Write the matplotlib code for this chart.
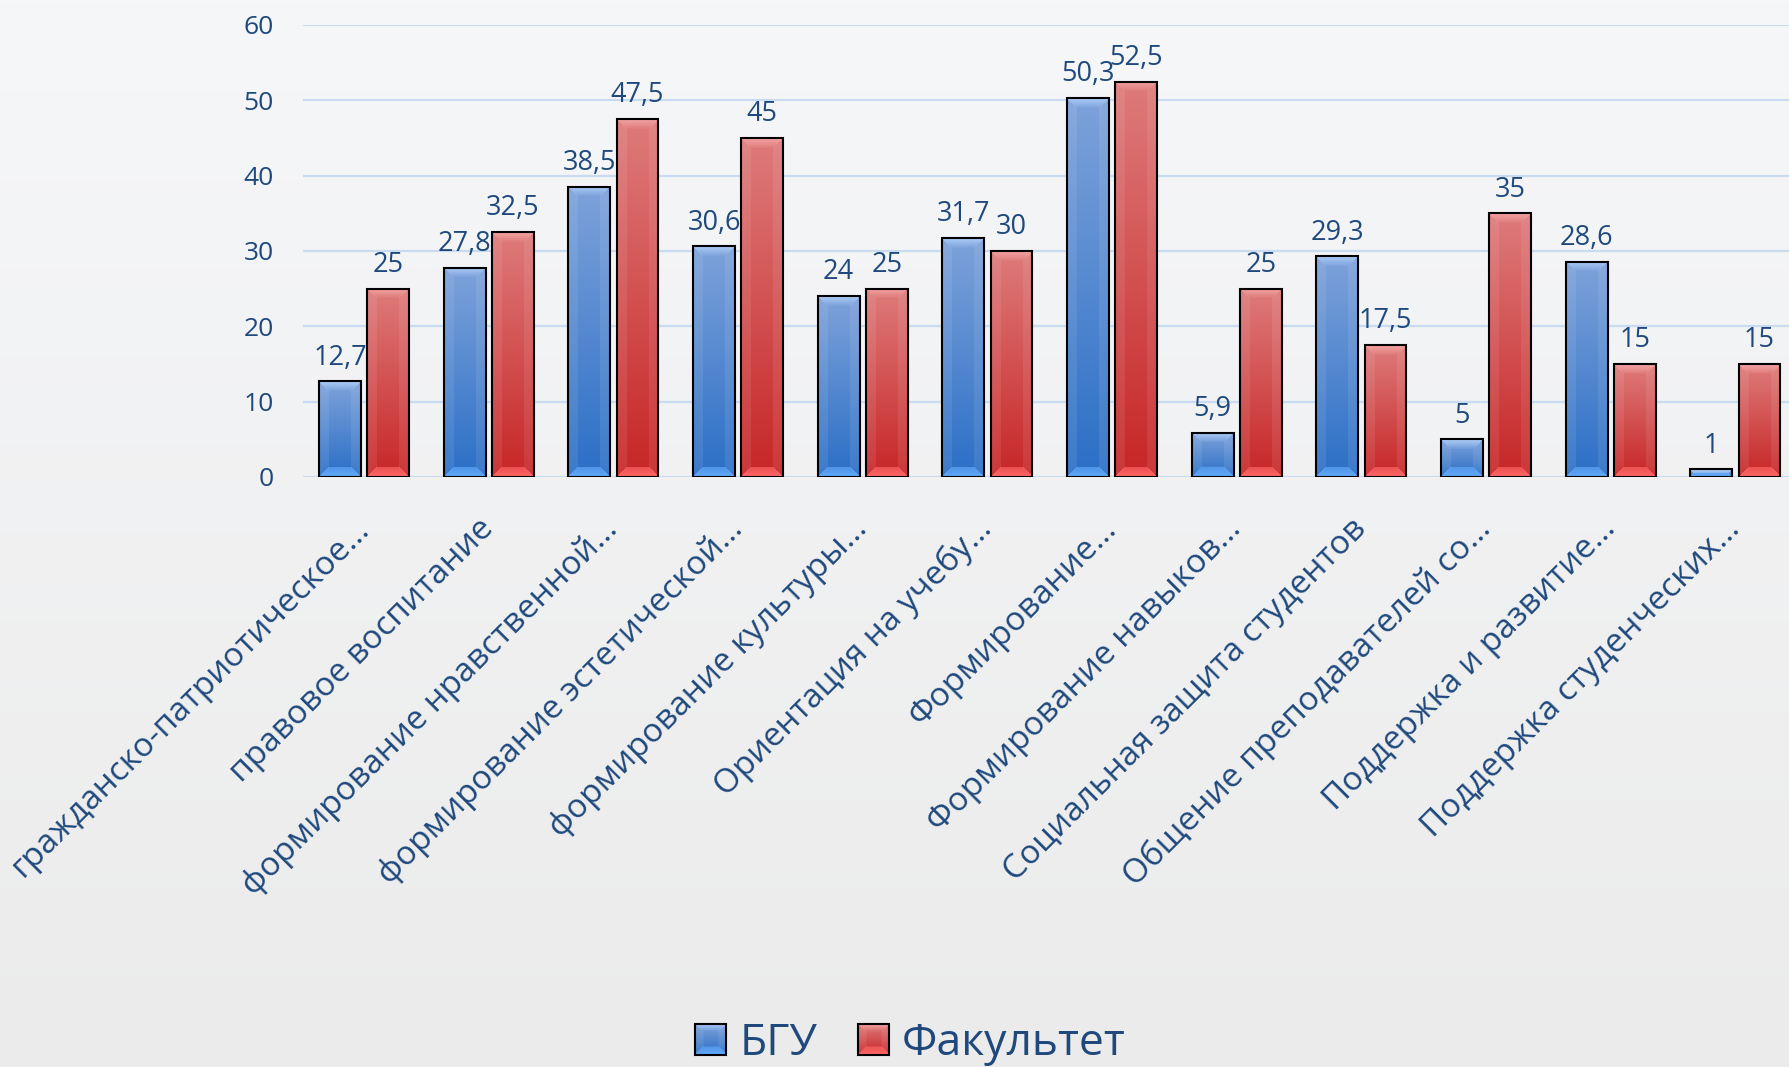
import numpy as np
import matplotlib
matplotlib.use("Agg")
import matplotlib.pyplot as plt
from matplotlib.legend_handler import HandlerBase
from matplotlib.patches import Rectangle, Patch
from matplotlib.image import BboxImage
from matplotlib.transforms import Bbox, TransformedBbox
from matplotlib.colors import to_rgb

plt.rcParams['font.family'] = ['Open Sans', 'DejaVu Sans']

categories = [
    "гражданско-патриотическое…",
    "правовое воспитание",
    "формирование нравственной…",
    "формирование эстетической…",
    "формирование культуры…",
    "Ориентация на учебу…",
    "Формирование…",
    "Формирование навыков…",
    "Социальная защита студентов",
    "Общение преподавателей со…",
    "Поддержка и развитие…",
    "Поддержка студенческих…",
]
series_names = ["БГУ", "Факультет"]
bgu = [12.7, 27.8, 38.5, 30.6, 24, 31.7, 50.3, 5.9, 29.3, 5, 28.6, 1]
fak = [25, 32.5, 47.5, 45, 25, 30, 52.5, 25, 17.5, 35, 15, 15]
yticks = [0, 10, 20, 30, 40, 50, 60]

TXT = '#1F497D'
BLUE = dict(top='#7EA2DA', bot='#2B6FC6', btop='#A9CBF6', bbot='#62A9FA')
RED = dict(top='#DE7B7B', bot='#C72627', btop='#F3A3A3', bbot='#FF6767')


def bevel_image(w, h, c, b=10):
    w = max(int(round(w)), 2)
    h = max(int(round(h)), 2)
    top = np.array(to_rgb(c['top']))
    bot = np.array(to_rgb(c['bot']))
    btop = np.array(to_rgb(c['btop']))
    bbot = np.array(to_rgb(c['bbot']))
    y = np.arange(h)[:, None] * np.ones((1, w))
    x = np.ones((h, 1)) * np.arange(w)[None, :]
    t = (y / (h - 1))[..., None]
    img = top * (1 - t) + bot * t
    dt, db, dl, dr = y, h - 1 - y, x, w - 1 - x
    m = np.minimum(np.minimum(dt, db), np.minimum(dl, dr))
    bb = min(b, w / 4)
    side = ((dl == m) | (dr == m)) & (m < bb)
    img[side] = img[side] * 0.92 + 0.08
    topm = (dt == m) & (m < bb)
    ft = (dt / bb)[..., None]
    img = np.where(topm[..., None], btop * (1 - ft) + img * ft, img)
    botm = (db == m) & (m < bb)
    fb = (db / bb)[..., None]
    img = np.where(botm[..., None], bbot * (1 - fb * 0.4) + img * fb * 0.4, img)
    return np.clip(img, 0, 1)


W, H = 1789, 1067
fig = plt.figure(figsize=(W / 100, H / 100), dpi=100)

# background gradient
bg = fig.add_axes([0, 0, 1, 1], zorder=-10)
g = np.linspace(0, 1, 256)[:, None]
c0 = np.array(to_rgb('#F6F7F9'))
c1 = np.array(to_rgb('#EBEBEB'))
bgimg = (c0 * (1 - g[..., None]) + c1 * g[..., None]) * np.ones((1, 2, 1))
bg.imshow(bgimg, aspect='auto', extent=(0, 1, 0, 1))
bg.set_axis_off()

ax_l, ax_b = 303 / W, (H - 477) / H
ax_w, ax_h = (W - 303) / W, (477 - 25) / H
ax = fig.add_axes([ax_l, ax_b, ax_w, ax_h])
ax.patch.set_alpha(0)
ax.set_xlim(-0.49, 11.43)
ax.set_ylim(0, 60)
for s in ax.spines.values():
    s.set_visible(False)

x = np.arange(len(categories))
bw = 0.335
off = 0.193

ax.set_yticks(yticks)
ax.yaxis.grid(True, color='#C9DBF0', lw=1.6, zorder=0)
ax.set_axisbelow(True)
ax.tick_params(axis='y', length=0, pad=21, labelsize=19, labelcolor=TXT)
ax.set_yticklabels([str(v) for v in yticks])

def pix(v):
    return ax.transData.transform(v)

for vals, col, sgn in ((bgu, BLUE, -1), (fak, RED, 1)):
    bars = ax.bar(x + sgn * off, vals, width=bw, facecolor='none',
                  edgecolor='black', linewidth=1.5, zorder=4)
    for rect, v in zip(bars, vals):
        x0 = rect.get_x()
        x1 = x0 + rect.get_width()
        p0 = pix((x0, 0))
        p1 = pix((x1, v))
        img = bevel_image(abs(p1[0] - p0[0]), abs(p1[1] - p0[1]), col)
        im = ax.imshow(img, extent=(x0, x1, 0, v), aspect='auto',
                       origin='upper', zorder=3, interpolation='bilinear')
        im.set_clip_path(rect)
        lab = ('%g' % v).replace('.', ',')
        ax.annotate(lab, (x0 + rect.get_width() / 2, v), xytext=(0, 7),
                    textcoords='offset points', ha='center', va='bottom',
                    fontsize=19.5, color=TXT, zorder=5)

ax.set_xlim(-0.49, 11.43)
ax.set_ylim(0, 60)
ax.set_xticks(x)
ax.set_xticklabels(categories, rotation=45, ha='right', va='center',
                   rotation_mode='anchor', fontsize=24, color=TXT)
ax.tick_params(axis='x', length=0, pad=34)


class GradHandler(HandlerBase):
    def __init__(self, col):
        super().__init__()
        self.col = col

    def create_artists(self, legend, orig_handle, xdescent, ydescent,
                       width, height, fontsize, trans):
        s = min(width, height)
        bbox = Bbox.from_bounds(-xdescent, -ydescent, s, s)
        tb = TransformedBbox(bbox, trans)
        im = BboxImage(tb, interpolation='bilinear')
        im.set_data(bevel_image(30, 30, self.col, b=14))
        rect = Rectangle((-xdescent, -ydescent), s, s, facecolor='none',
                         edgecolor='black', linewidth=1.5, transform=trans)
        return [im, rect]


h1 = Patch(label=series_names[0])
h2 = Patch(label=series_names[1])
leg = fig.legend([h1, h2], series_names, loc='center',
                 bbox_to_anchor=(0.509, 0.022), ncol=2, frameon=False,
                 fontsize=32, labelcolor=TXT, handlelength=0.7,
                 handleheight=0.7, handletextpad=0.3, columnspacing=0.9,
                 handler_map={h1: GradHandler(BLUE), h2: GradHandler(RED)})

fig.savefig('out.png', dpi=100)
